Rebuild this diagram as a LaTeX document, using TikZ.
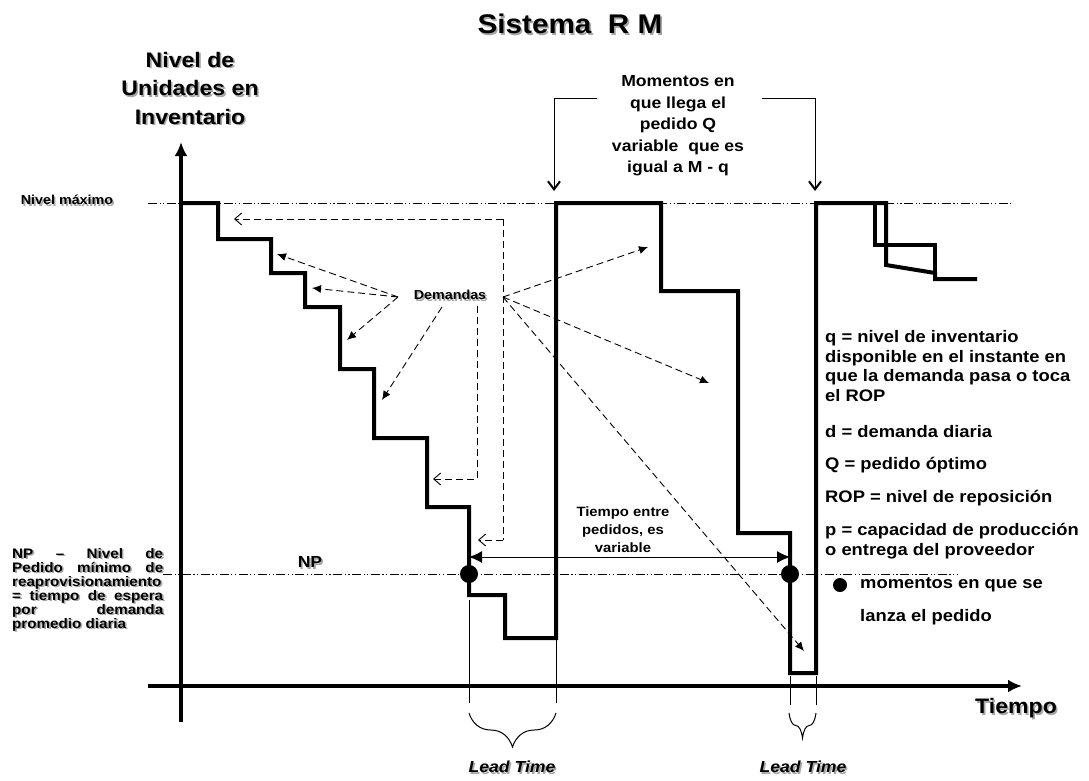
\documentclass[tikz,border=0pt]{standalone}
\usepackage{fontspec}
\setmainfont{Liberation Sans}[FakeStretch=1.1]
\usetikzlibrary{arrows.meta,decorations.pathreplacing}

% text with a soft grey drop shadow
\newcommand\shadowed[4]{%
  \node[#1,text=black!35,xshift=1.6pt,yshift=-1.6pt] at #3 {#4};
  \node[#1] (#2) at #3 {#4};}

\begin{document}
\begin{tikzpicture}[x=1pt,y=-1pt,
  every node/.style={inner sep=0pt,font=\bfseries},
  stair/.style={line width=4pt,line join=miter},
  axis/.style={line width=4pt,-{Latex[length=14pt,width=13pt]}},
  refline/.style={line width=0.8pt,dash pattern=on 9pt off 2.5pt on 1.2pt off 2.5pt on 1.2pt off 2.5pt},
  demand/.style={line width=0.9pt,dash pattern=on 7pt off 4pt,-{Latex[length=9pt,width=8pt]}},
  demandopen/.style={line width=0.9pt,dash pattern=on 7pt off 4pt,-{Straight Barb[length=7pt,width=12pt]}},
  demandline/.style={line width=0.9pt,dash pattern=on 7pt off 4pt},
  arrival/.style={line width=1pt,-{Straight Barb[length=8pt,width=12pt,line width=2pt]}},
  thin/.style={line width=1pt},
  leadbrace/.style={line width=1pt,decorate,decoration={brace,mirror,aspect=0.5}},
  order/.style={circle,fill=black,minimum size=18pt,inner sep=0pt}
]
\useasboundingbox (0,0) rectangle (1089,780);

% reference levels
\coordinate (maxL) at (148,203);  \coordinate (maxR) at (1013,203);
\coordinate (npL)  at (163,574);  \coordinate (npR)  at (958,574);
\draw[refline] (maxL) -- (maxR);
\draw[refline] (npL) -- (npR);

% axes
\coordinate (yBot) at (181,722); \coordinate (yTop) at (181,142);
\coordinate (xL) at (148,686);   \coordinate (xR) at (1022,686);
\draw[axis] (yBot) -- (yTop);
\draw[axis] (xL) -- (xR);

% inventory level
\draw[stair] (181,203) -- (218,203) -- (218,239) -- (271,239) -- (271,273)
  -- (305,273) -- (305,307) -- (340,307) -- (340,369) -- (374,369)
  -- (374,438) -- (427,438) -- (427,507) -- (469,507) -- (469,595)
  -- (505,595) -- (505,638) -- (556,638) -- (556,203) -- (661,203)
  -- (661,291) -- (738,291) -- (738,533) -- (790,533) -- (790,673)
  -- (816,673) -- (816,203) -- (886,203) -- (886,265) -- (935,273)
  -- (935,279) -- (977,279);
\draw[stair] (875,203) -- (875,245) -- (935,245) -- (935,273);

% order points
\node[order] (o1) at (469,574) {};
\node[order] (o2) at (790,574) {};

% time between orders
\coordinate (tb1) at (469,557); \coordinate (tb2) at (790,557);
\draw[thin,{Latex[length=13pt,width=12pt]}-{Latex[length=13pt,width=12pt]}] (tb1) -- (tb2);
\node[font=\bfseries\fontsize{13.5}{18}\selectfont,align=center] (tbtxt) at (623,530)
  {Tiempo entre\\pedidos, es\\variable};

% lead-time markers
\coordinate (l1t) at (469,600); \coordinate (l1b) at (469,703);
\coordinate (l2t) at (556,600); \coordinate (l2b) at (556,703);
\coordinate (l3t) at (790,676); \coordinate (l3b) at (790,705);
\coordinate (l4t) at (816,676); \coordinate (l4b) at (816,705);
\draw[thin] (l1t) -- (l1b) (l2t) -- (l2b) (l3t) -- (l3b) (l4t) -- (l4b);
\coordinate (b1a) at (469,713); \coordinate (b1b) at (556,713);
\coordinate (b2a) at (789,713); \coordinate (b2b) at (816,713);
\draw[leadbrace,decoration={amplitude=34pt}] (b1a) -- (b1b);
\draw[leadbrace,decoration={amplitude=25pt}] (b2a) -- (b2b);
\shadowed{font=\bfseries\itshape\fontsize{16}{18}\selectfont}{lt1}{(512,767)}{Lead Time}
\shadowed{font=\bfseries\itshape\fontsize{16}{18}\selectfont}{lt2}{(803,767)}{Lead Time}

% demand arrows
\shadowed{font=\bfseries\fontsize{13}{15}\selectfont}{dem}{(450,295)}{Demandas}
\coordinate (dA) at (398,297);
\coordinate (d1) at (277,254); \coordinate (d2) at (312,288); \coordinate (d3) at (347,340);
\draw[demand] (dA) -- (d1);
\draw[demand] (dA) -- (d2);
\draw[demand] (dA) -- (d3);
\coordinate (dB) at (442,307); \coordinate (d4) at (382,400);
\draw[demand] (dB) -- (d4);
\coordinate (dC) at (477,306); \coordinate (dCc) at (477,479); \coordinate (d5) at (433,479);
\draw[demandopen] (dC) -- (dCc) -- (d5);
\coordinate (dD) at (503,297);
\coordinate (dDt) at (503,219); \coordinate (d6) at (234,219);
\coordinate (dDb) at (503,540); \coordinate (d7) at (478,540);
\draw[demandline] (dDt) -- (dDb);
\draw[demandopen] (dDt) -- (d6);
\draw[demandopen] (dDb) -- (d7);
\coordinate (d8) at (648,247); \coordinate (d9) at (709,383); \coordinate (d10) at (804,651);
\draw[demand] (dD) -- (d8);
\draw[demand] (dD) -- (d9);
\draw[demand] (dD) -- (d10);

% arrival of orders
\node[font=\bfseries\fontsize{16}{21.5}\selectfont,align=center] (arr) at (678,126)
  {Momentos en\\que llega el\\pedido Q\\variable\ \ que es\\igual a M - q};
\coordinate (a1) at (597,98); \coordinate (a1c) at (554,98); \coordinate (a1e) at (554,191);
\coordinate (a2) at (762,98); \coordinate (a2c) at (815,98); \coordinate (a2e) at (815,191);
\draw[arrival] (a1) -- (a1c) -- (a1e);
\draw[arrival] (a2) -- (a2c) -- (a2e);

% titles and axis labels
\shadowed{font=\bfseries\fontsize{27}{30}\selectfont}{title}{(570,24)}{Sistema\ \ R M}
\shadowed{font=\bfseries\fontsize{21}{28.5}\selectfont,align=center}{ylab}{(190,88)}{Nivel de\\Unidades en\\Inventario}
\shadowed{font=\bfseries\fontsize{21}{24}\selectfont}{xlab}{(1016,708)}{Tiempo}
\shadowed{font=\bfseries\fontsize{13}{15}\selectfont}{maxlab}{(67,200)}{Nivel máximo}
\shadowed{font=\bfseries\fontsize{16}{18}\selectfont}{nplab}{(310,562)}{NP}
\shadowed{font=\bfseries\fontsize{13.8}{14}\selectfont,text width=151pt,align=justify,anchor=north west}{npdef}{(12,548)}%
  {NP \ – \ Nivel \ de\linebreak Pedido mínimo de\linebreak reaprovisionamiento\linebreak = tiempo de espera\linebreak por demanda\linebreak promedio diaria}

% legend
\begin{scope}[every node/.append style={anchor=west,align=left,font=\bfseries\fontsize{16.7}{19.5}\selectfont}]
\node (lq) at (825,366) {q = nivel de inventario\\disponible en el instante en\\que la demanda pasa o toca\\el ROP};
\node (ld) at (825,432) {d = demanda diaria};
\node (lQ) at (825,465) {Q = pedido óptimo};
\node (lR) at (825,498) {ROP = nivel de reposición};
\node (lp) at (825,541) {p = capacidad de producción\\o entrega del proveedor};
\node[order,minimum size=14pt,anchor=center] (ldot) at (840,585) {};
\node (lm) at (860,585) {momentos en que se};
\node (ll) at (860,617) {lanza el pedido};
\end{scope}
\end{tikzpicture}
\end{document}
